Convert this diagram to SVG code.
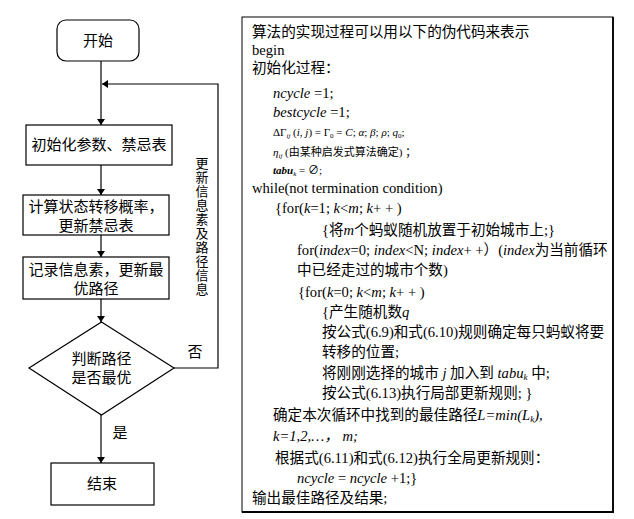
<svg xmlns="http://www.w3.org/2000/svg" width="634" height="519" viewBox="0 0 634 519">
<style>
.t{font-family:'Liberation Serif','Noto Sans CJK SC',serif;font-size:14.6px;fill:#000}
.f{font-family:'Liberation Serif','Noto Sans CJK SC',serif;font-size:15px;fill:#000;text-anchor:middle}
.v{font-family:'Noto Sans CJK SC',sans-serif;font-size:13px;fill:#000;writing-mode:vertical-rl;letter-spacing:1px}
.s{font-size:11px}
.i{font-style:italic}
.box{fill:#fff;stroke:#000;stroke-width:1.2}
.ln{fill:none;stroke:#000;stroke-width:1.2}
</style>
<defs>
<marker id="ah" viewBox="0 0 6 8" refX="6" refY="4" markerWidth="6" markerHeight="8" markerUnits="userSpaceOnUse" orient="auto">
<path d="M0,0 L6,4 L0,8 z" fill="#000"/>
</marker>
</defs>
<rect width="634" height="519" fill="#fff"/>
<g id="connectors">
<line class="ln" x1="101" y1="61" x2="101" y2="125" marker-end="url(#ah)"/>
<line class="ln" x1="101" y1="165" x2="101" y2="195" marker-end="url(#ah)"/>
<line class="ln" x1="101" y1="235" x2="101" y2="257" marker-end="url(#ah)"/>
<line class="ln" x1="101" y1="299" x2="101" y2="322" marker-end="url(#ah)"/>
<line class="ln" x1="101" y1="415" x2="101" y2="463" marker-end="url(#ah)"/>
<polyline class="ln" points="174,368 218,368 218,84 102,84" marker-end="url(#ah)"/>
<text class="f" x="195" y="357">否</text>
<text class="f" x="120" y="438">是</text>
<text class="v" x="202" y="157">更新信息素及路径信息</text>
</g>
<g id="start">
<rect class="box" x="57" y="20" width="82" height="41" rx="9"/>
<text class="f" x="98" y="46">开始</text>
</g>
<g id="init">
<rect class="box" x="26" y="125" width="146" height="40"/>
<text class="f" x="99" y="150">初始化参数、禁忌表</text>
</g>
<g id="calc">
<rect class="box" x="23" y="195" width="146" height="40"/>
<text class="f" x="96" y="212">计算状态转移概率，<tspan x="96" dy="18.5">更新禁忌表</tspan></text>
</g>
<g id="record">
<rect class="box" x="23" y="257" width="146" height="42"/>
<text class="f" x="96" y="275">记录信息素，更新最<tspan x="96" dy="18.5">优路径</tspan></text>
</g>
<g id="judge">
<polygon class="box" points="101.5,322 174,368 101.5,415 29,368"/>
<text class="f" x="101.5" y="364">判断路径<tspan x="101.5" dy="19">是否最优</tspan></text>
</g>
<g id="end">
<rect class="box" x="51" y="463" width="103" height="42"/>
<text class="f" x="102" y="489">结束</text>
</g>
<g id="pseudocode">
<rect x="242" y="17" width="371" height="495" fill="#fff" stroke="#000" stroke-width="1"/>
<line x1="613" y1="17" x2="613" y2="512.8" stroke="#000" stroke-width="1.8"/>
<line x1="242" y1="512" x2="613.8" y2="512" stroke="#000" stroke-width="1.8"/>
<text class="t" x="252" y="37">算法的实现过程可以用以下的伪代码来表示</text>
<text class="t" x="252" y="55">begin</text>
<text class="t" x="252" y="73">初始化过程：</text>
<text class="t" x="273" y="98"><tspan class="i">ncycle</tspan> =1;</text>
<text class="t" x="273" y="117"><tspan class="i">bestcycle</tspan> =1;</text>
<text class="t s" x="273" y="136">ΔΓ<tspan font-size="7" dy="2" class="i">ij</tspan><tspan dy="-2"> (</tspan><tspan class="i">i</tspan>, <tspan class="i">j</tspan>) = Γ<tspan font-size="7" dy="2">0</tspan><tspan dy="-2"> = </tspan><tspan class="i">C</tspan>; <tspan class="i">α</tspan>; <tspan class="i">β</tspan>; <tspan class="i">ρ</tspan>; <tspan class="i">q</tspan><tspan font-size="7" dy="2">0</tspan><tspan dy="-2">;</tspan></text>
<text class="t s" x="273" y="156"><tspan class="i">η</tspan><tspan font-size="7" dy="2" class="i">ij</tspan><tspan dy="-2"> (由某种启发式算法确定) ；</tspan></text>
<text class="t s" x="273" y="174"><tspan class="i" font-weight="bold">tabu</tspan><tspan font-size="7" dy="2" class="i">k</tspan><tspan dy="-2"> = ∅;</tspan></text>
<text class="t" x="252" y="193">while(not termination condition)</text>
<text class="t" x="275" y="213">{for(<tspan class="i">k</tspan>=1; <tspan class="i">k</tspan>&lt;<tspan class="i">m</tspan>; <tspan class="i">k</tspan>+ + )</text>
<text class="t" x="322" y="235">{将<tspan class="i">m</tspan>个蚂蚁随机放置于初始城市上;}</text>
<text class="t" x="297" y="255">for(<tspan class="i">index</tspan>=0; <tspan class="i">index</tspan>&lt;N; <tspan class="i">index</tspan>+ +）(<tspan class="i">index</tspan>为当前循环</text>
<text class="t" x="297" y="275">中已经走过的城市个数)</text>
<text class="t" x="298" y="297">{for(<tspan class="i">k</tspan>=0; <tspan class="i">k</tspan>&lt;<tspan class="i">m</tspan>; <tspan class="i">k</tspan>+ + )</text>
<text class="t" x="322" y="317">{产生随机数<tspan class="i">q</tspan></text>
<text class="t" x="322" y="337">按公式(6.9)和式(6.10)规则确定每只蚂蚁将要</text>
<text class="t" x="322" y="357">转移的位置;</text>
<text class="t" x="322" y="378">将刚刚选择的城市 <tspan class="i">j</tspan> 加入到 <tspan class="i">tabu</tspan><tspan class="i" font-size="9" dy="2">k</tspan><tspan dy="-2"> 中;</tspan></text>
<text class="t" x="322" y="398">按公式(6.13)执行局部更新规则; }</text>
<text class="t" x="273" y="420">确定本次循环中找到的最佳路径<tspan class="i">L=min(L</tspan><tspan class="i" font-size="9" dy="2">k</tspan><tspan class="i" dy="-2">),</tspan></text>
<text class="t i" x="273" y="441">k=1,2,…， m;</text>
<text class="t" x="275" y="463">根据式(6.11)和式(6.12)执行全局更新规则：</text>
<text class="t" x="297" y="483"><tspan class="i">ncycle</tspan> = <tspan class="i">ncycle</tspan> +1;}</text>
<text class="t" x="252" y="503">输出最佳路径及结果;</text>
</g>
</svg>
